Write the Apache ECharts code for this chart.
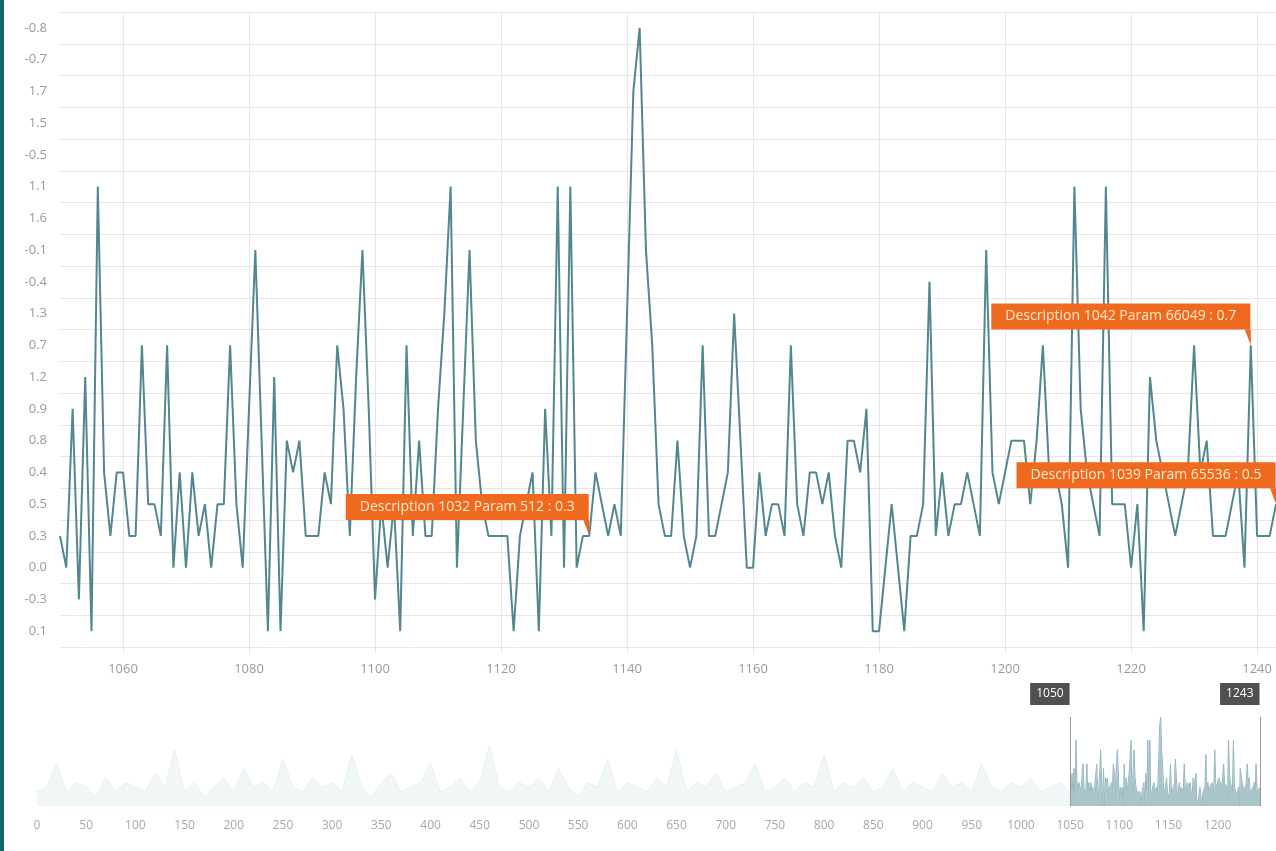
<!DOCTYPE html>
<html>
<head>
<meta charset="utf-8">
<title>Levels 1050 - 1243</title>
<script src="https://cdn.jsdelivr.net/npm/echarts@6/dist/echarts.min.js"></script>
<style>
    html, body { margin: 0; padding: 0; background: #fff; }
    #chart { width: 1276px; height: 851px; }
    #edge { position: absolute; left: 0; top: 0; width: 4px; height: 851px; background: #17626c; }
</style>
</head>
<body>
<div id="chart"></div>
<div id="edge"></div>
<script>
// y categories, bottom to top (the axis is a category axis, not a numeric one)
const yCats = ['0.1', '-0.3', '0.0', '0.3', '0.5', '0.4', '0.8', '0.9', '1.2', '0.7',
               '1.3', '-0.4', '-0.1', '1.6', '1.1', '-0.5', '1.5', '1.7', '-0.7', '-0.8'];

// first and last index of the zoomed window
const zoomStart = 1050;
const zoomEnd = 1243;

// level (index into yCats) for every point from 1050 to 1243
const mainLevel = [
    3, 2, 7, 1, 8, 0, 14, 5, 3, 5,      // 1050
    5, 3, 3, 9, 4, 4, 3, 9, 2, 5,       // 1060
    2, 5, 3, 4, 2, 4, 4, 9, 4, 2,       // 1070
    7, 12, 6, 0, 8, 0, 6, 5, 6, 3,      // 1080
    3, 3, 5, 4, 9, 7, 3, 8, 12, 7,      // 1090
    1, 4, 2, 4, 0, 9, 3, 6, 3, 3,       // 1100
    7, 10, 14, 2, 7, 12, 6, 4, 3, 3,    // 1110
    3, 3, 0, 3, 4, 5, 0, 7, 3, 14,      // 1120
    2, 14, 2, 3, 3, 5, 4, 3, 4, 3,      // 1130
    10, 17, 19, 12, 9, 4, 3, 3, 6, 3,   // 1140
    2, 3, 9, 3, 3, 4, 5, 10, 6, 2,      // 1150
    2, 5, 3, 4, 4, 3, 9, 4, 3, 5,       // 1160
    5, 4, 5, 3, 2, 6, 6, 5, 7, 0,       // 1170
    0, 2, 4, 2, 0, 3, 3, 4, 11, 3,      // 1180
    5, 3, 4, 4, 5, 4, 3, 12, 5, 4,      // 1190
    5, 6, 6, 6, 4, 6, 9, 5, 5, 4,       // 1200
    2, 14, 7, 5, 4, 3, 14, 4, 4, 4,     // 1210
    2, 4, 0, 8, 6, 5, 4, 3, 4, 5,       // 1220
    9, 5, 6, 3, 3, 3, 4, 5, 2, 9,       // 1230
    3, 3, 3, 4                          // 1240
];

// rough levels of the faint overview before the window, one every 10 points (0, 10, ... 1040)
const overviewStep = 10;
const overviewLevel = [
    3, 4, 9, 3, 5, 4, 2, 6, 3, 5,
    4, 3, 7, 4, 12, 3, 5, 2, 4, 6,
    3, 8, 4, 5, 3, 10, 4, 3, 6, 4,
    5, 3, 11, 4, 2, 5, 7, 3, 4, 5,
    9, 3, 4, 6, 3, 5, 13, 4, 3, 5,
    4, 6, 3, 8, 4, 2, 5, 4, 10, 3,
    5, 4, 3, 6, 4, 12, 3, 5, 4, 7,
    3, 4, 5, 9, 3, 4, 6, 3, 5, 4,
    11, 3, 5, 4, 6, 3, 4, 8, 3, 5,
    4, 3, 7, 4, 5, 3, 9, 4, 3, 5,
    4, 6, 3, 4, 5
];

// flagged points
const markerX = [1134, 1239, 1243];
const markerText = ['Description 1032 Param 512', 'Description 1042 Param 66049', 'Description 1039 Param 65536'];

document.addEventListener('DOMContentLoaded', function() {
    const chart = echarts.init(document.getElementById('chart'));

    const font = '"Open Sans", "Noto Sans", sans-serif';

    // x categories of the window
    const xCats = mainLevel.map((v, i) => String(zoomStart + i));

    // navigator series: overview then window
    const navAll = overviewLevel.map((v, i) => [i * overviewStep, v])
        .concat(mainLevel.map((v, i) => [zoomStart + i, v]));
    const navSel = mainLevel.map((v, i) => [zoomStart + i, v]);

    // orange flags: label item + small tail item for each point
    const flags = [];
    markerX.forEach((x, i) => {
        const lvl = mainLevel[x - zoomStart];
        flags.push({
            coord: [String(x), lvl],
            symbol: 'circle',
            symbolSize: 1,
            itemStyle: { color: 'rgba(0,0,0,0)' },
            label: {
                show: true,
                position: 'left',
                distance: 0,
                offset: [0, -29],
                formatter: markerText[i] + ' : ' + yCats[lvl],
                backgroundColor: '#ef6a1f',
                color: '#fcebd0',
                fontSize: 14,
                fontFamily: font,
                padding: [6, 14, 6, 14]
            }
        });
        flags.push({
            coord: [String(x), lvl],
            symbol: 'path://M0 0 L6 0 L6 16 Z',
            symbolSize: [6, 16],
            symbolOffset: [-3, -8],
            symbolKeepAspect: false,
            itemStyle: { color: '#ef6a1f' },
            label: { show: false }
        });
    });

    const every20 = function(index, value) {
        return Number(value) % 20 === 0;
    };

    const option = {
        animation: false,
        grid: [
            { left: 60, right: 0, top: 12, bottom: 204 },
            { left: 37, right: 16, top: 717, bottom: 45 }
        ],
        xAxis: [
            {
                type: 'category',
                gridIndex: 0,
                data: xCats,
                boundaryGap: false,
                axisLine: { show: false },
                axisTick: { show: true, interval: every20, length: 6, lineStyle: { color: '#e2e2e2' } },
                axisLabel: { interval: every20, color: '#9a9a9a', fontSize: 13, fontFamily: font, margin: 16 },
                splitLine: { show: true, interval: every20, lineStyle: { color: '#e6e6e6' } }
            },
            {
                type: 'value',
                gridIndex: 1,
                min: 0,
                max: zoomEnd,
                interval: 50,
                axisLine: { show: false },
                axisTick: { show: false },
                splitLine: { show: false },
                axisLabel: {
                    color: '#a8a8a8', fontSize: 12, fontFamily: font, margin: 14, showMaxLabel: false,
                    formatter: v => String(v)
                }
            }
        ],
        yAxis: [
            {
                type: 'category',
                gridIndex: 0,
                data: yCats,
                axisLine: { show: false },
                axisTick: { show: false },
                axisLabel: { color: '#9a9a9a', fontSize: 13, fontFamily: font, margin: 13 },
                splitLine: { show: true, lineStyle: { color: '#e6e6e6' } }
            },
            {
                type: 'value',
                gridIndex: 1,
                min: 0,
                max: yCats.length - 1,
                show: false
            }
        ],
        series: [
            {
                name: 'Level',
                type: 'line',
                xAxisIndex: 0,
                yAxisIndex: 0,
                data: mainLevel,
                symbol: 'none',
                lineStyle: { color: '#538790', width: 2 },
                markPoint: { data: flags }
            },
            {
                name: 'Overview',
                type: 'line',
                xAxisIndex: 1,
                yAxisIndex: 1,
                data: navAll,
                symbol: 'none',
                silent: true,
                lineStyle: { color: '#e8f0f2', width: 1 },
                areaStyle: { color: '#f1f6f7', opacity: 1 }
            },
            {
                name: 'Window',
                type: 'line',
                xAxisIndex: 1,
                yAxisIndex: 1,
                data: navSel,
                symbol: 'none',
                silent: true,
                lineStyle: { color: '#98b9bf', width: 1 },
                areaStyle: { color: '#a9c5ca', opacity: 1 },
                markLine: {
                    silent: true,
                    symbol: 'none',
                    label: { show: false },
                    lineStyle: { color: '#9a9a9a', width: 1, type: 'solid' },
                    data: [{ xAxis: zoomStart }, { xAxis: zoomEnd }]
                },
                markPoint: {
                    silent: true,
                    data: [zoomStart, zoomEnd].map(v => ({
                        coord: [v, yCats.length - 1],
                        symbol: 'circle',
                        symbolSize: 1,
                        itemStyle: { color: 'rgba(0,0,0,0)' },
                        label: {
                            show: true,
                            position: 'left',
                            distance: 0,
                            offset: [0, -23],
                            formatter: String(v),
                            backgroundColor: '#505050',
                            color: '#ffffff',
                            fontSize: 12,
                            fontFamily: font,
                            padding: [5, 6, 5, 6]
                        }
                    }))
                }
            }
        ]
    };

    chart.setOption(option);
});
</script>
</body>
</html>
